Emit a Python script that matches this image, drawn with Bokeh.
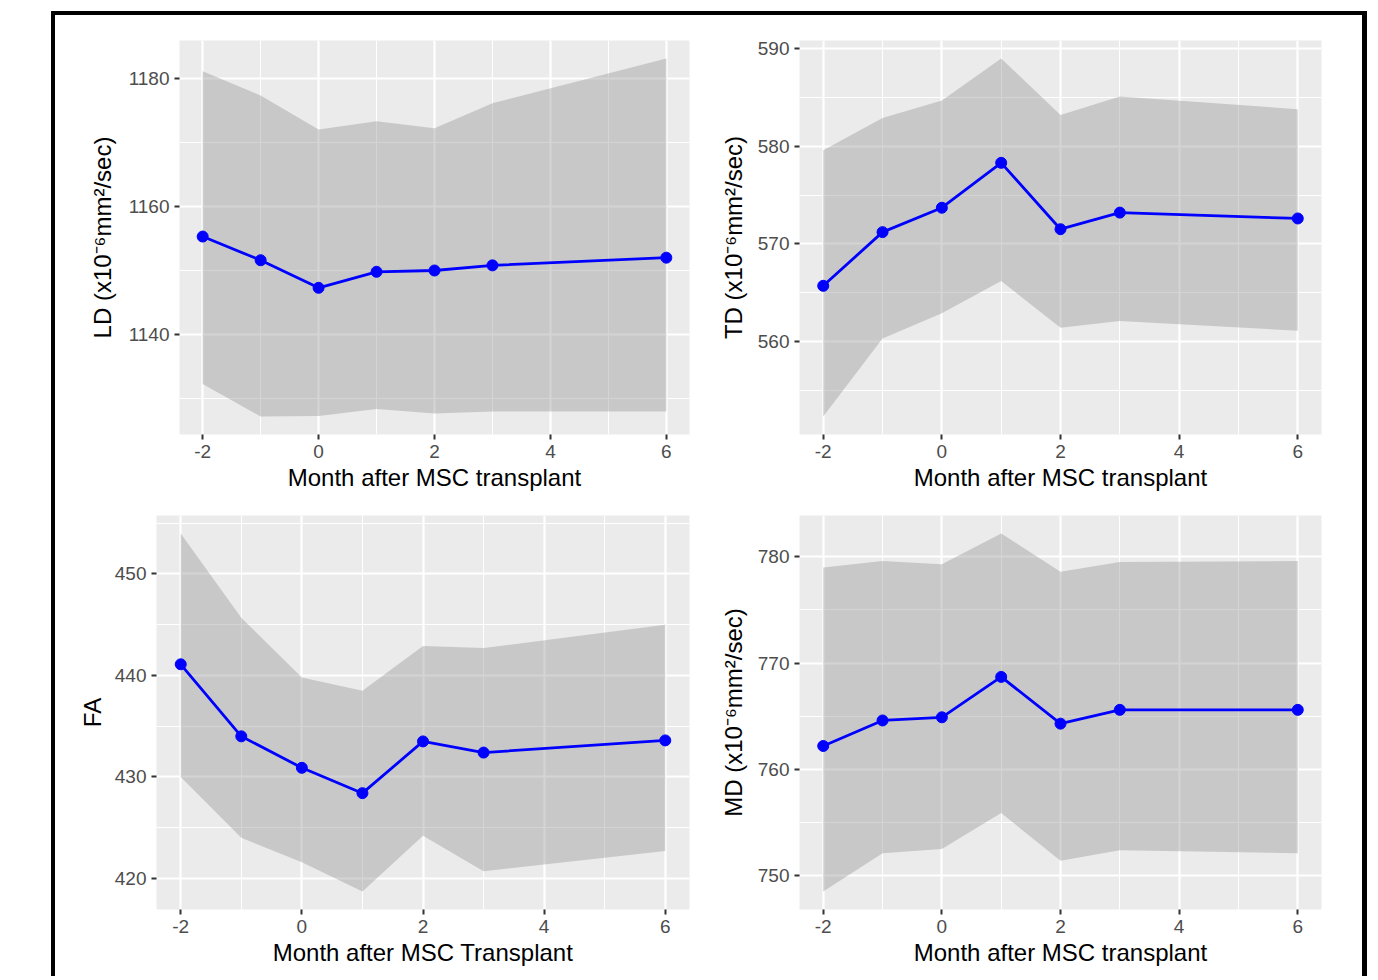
from bokeh.plotting import figure
from bokeh.layouts import row, column
from bokeh.models import Range1d, FixedTicker, Spacer
from bokeh.embed import file_html
from bokeh.resources import INLINE

months = [-2, -1, 0, 1, 2, 3, 6]
x_ticks = [-2, 0, 2, 4, 6]
x_minor = [-1, 1, 3, 5]
x_tick_labels = {-2: "-2", 0: "0", 2: "2", 4: "4", 6: "6"}

ld_mean = [1155.3, 1151.6, 1147.3, 1149.8, 1150.0, 1150.8, 1152.0]
ld_upper = [1181.1, 1177.3, 1172.0, 1173.3, 1172.2, 1176.1, 1183.1]
ld_lower = [1132.3, 1127.2, 1127.3, 1128.4, 1127.7, 1128.0, 1128.0]
ld_ticks = [1140, 1160, 1180]
ld_minor = [1130, 1150, 1170]

td_mean = [565.7, 571.2, 573.7, 578.3, 571.5, 573.2, 572.6]
td_upper = [579.6, 582.9, 584.7, 589.0, 583.2, 585.1, 583.8]
td_lower = [552.3, 560.3, 562.9, 566.2, 561.4, 562.1, 561.1]
td_ticks = [560, 570, 580, 590]
td_minor = [555, 565, 575, 585]

fa_mean = [441.1, 434.0, 430.9, 428.4, 433.5, 432.4, 433.6]
fa_upper = [454.0, 445.7, 439.8, 438.5, 442.9, 442.7, 445.0]
fa_lower = [430.0, 424.0, 421.6, 418.7, 424.2, 420.7, 422.7]
fa_ticks = [420, 430, 440, 450]
fa_minor = [415, 425, 435, 445, 455]

md_mean = [762.2, 764.6, 764.9, 768.7, 764.3, 765.6, 765.6]
md_upper = [779.0, 779.6, 779.3, 782.2, 778.6, 779.5, 779.6]
md_lower = [748.5, 752.1, 752.5, 755.9, 751.4, 752.4, 752.1]
md_ticks = [750, 760, 770, 780]
md_minor = [755, 765, 775]

FONT = "Liberation Sans"


def expand(lo, hi, f=0.05):
    d = (hi - lo) * f
    return lo - d, hi + d


def panel(mean, upper, lower, yt, ym, ylabel, xlabel, w, h, bl, br, bt, bb, ystand):
    x0, x1 = expand(min(months), max(months))
    y0, y1 = expand(min(lower), max(upper))
    p = figure(width=w, height=h, output_backend="svg", toolbar_location=None,
               x_range=Range1d(x0, x1), y_range=Range1d(y0, y1),
               min_border_left=bl, min_border_right=br,
               min_border_top=bt, min_border_bottom=bb,
               background_fill_color="#EBEBEB", border_fill_color="white",
               outline_line_color=None)
    xt = FixedTicker(ticks=x_ticks, minor_ticks=x_minor)
    ytk = FixedTicker(ticks=yt, minor_ticks=ym)
    p.xaxis.ticker = xt
    p.xgrid.ticker = xt
    p.yaxis.ticker = ytk
    p.ygrid.ticker = ytk
    p.xaxis.major_label_overrides = x_tick_labels
    p.grid.grid_line_color = "white"
    p.grid.grid_line_width = 2.2
    p.grid.minor_grid_line_color = "white"
    p.grid.minor_grid_line_width = 1.1
    for ax in (p.xaxis[0], p.yaxis[0]):
        ax.axis_line_color = None
        ax.major_tick_line_color = "#333333"
        ax.major_tick_line_width = 2
        ax.major_tick_out = 5
        ax.major_tick_in = 0
        ax.minor_tick_line_color = None
        ax.major_label_text_font = FONT
        ax.major_label_text_font_size = "19px"
        ax.major_label_text_color = "#4D4D4D"
        ax.axis_label_text_font = FONT
        ax.axis_label_text_font_size = "24px"
        ax.axis_label_text_font_style = "normal"
        ax.axis_label_text_color = "black"
    p.xaxis.axis_label = xlabel
    p.yaxis.axis_label = ylabel
    p.xaxis.major_label_standoff = 5
    p.xaxis.axis_label_standoff = 3
    p.yaxis.major_label_standoff = 5
    p.yaxis.axis_label_standoff = ystand
    p.varea(x=months, y1=lower, y2=upper, fill_color="#999999", fill_alpha=0.42)
    p.line(months, mean, line_color="#0000FF", line_width=2.8)
    p.scatter(months, mean, size=11, fill_color="#0000FF", line_color="#0000FF")
    return p


p1 = panel(ld_mean, ld_upper, ld_lower, ld_ticks, ld_minor,
           "LD (x10\u207b\u2076mm\u00b2/sec)", "Month after MSC transplant",
           656, 482, 124, 22, 25, 63, 10)
p2 = panel(td_mean, td_upper, td_lower, td_ticks, td_minor,
           "TD (x10\u207b\u2076mm\u00b2/sec)", "Month after MSC transplant",
           651, 482, 88, 41, 25, 63, 8)
p3 = panel(fa_mean, fa_upper, fa_lower, fa_ticks, fa_minor,
           "FA", "Month after MSC Transplant",
           656, 475, 101, 22, 18, 63, 6)
p4 = panel(md_mean, md_upper, md_lower, md_ticks, md_minor,
           "MD (x10\u207b\u2076mm\u00b2/sec)", "Month after MSC transplant",
           651, 475, 88, 41, 18, 63, 8)

black = {"background-color": "black"}
grid = column(Spacer(width=1307, height=4, styles=black),
              row(p1, p2), row(p3, p4))
layout = column(Spacer(width=1367, height=11),
                row(Spacer(width=51, height=965),
                    Spacer(width=4, height=965, styles=black),
                    grid,
                    Spacer(width=5, height=965, styles=black)))

open("out.html", "w").write(file_html(layout, INLINE))
